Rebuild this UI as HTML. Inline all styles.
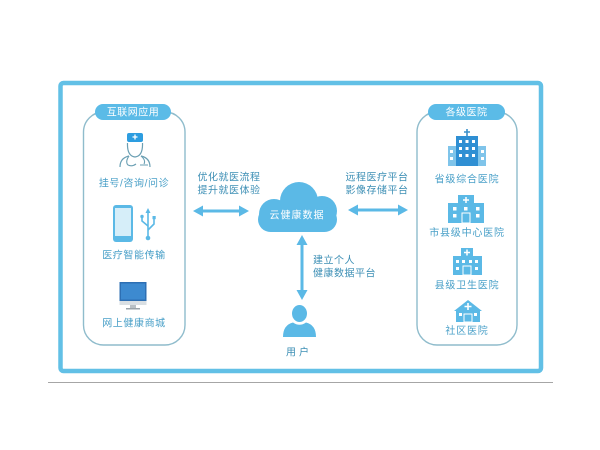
<!DOCTYPE html>
<html><head><meta charset="utf-8"><style>
html,body{margin:0;padding:0;background:#fff;}
svg{display:block;}
text{font-family:"Liberation Sans","Noto Sans CJK SC",sans-serif;}
</style></head><body>
<svg width="600" height="450" viewBox="0 0 600 450" xmlns="http://www.w3.org/2000/svg">
<rect width="600" height="450" fill="#fff"/>
<!-- gray baseline -->
<line x1="48" y1="382.5" x2="553" y2="382.5" stroke="#a6a6a6" stroke-width="1"/>
<!-- outer frame -->
<rect x="60.5" y="83" width="480.5" height="288" rx="3" fill="none" stroke="#62c0e6" stroke-width="4.5"/>

<!-- left panel -->
<rect x="83.5" y="112" width="101.5" height="233" rx="20" fill="none" stroke="#8fbccc" stroke-width="1.4"/>
<rect x="95" y="104" width="76" height="16" rx="8" fill="#5bbbe7"/>
<text x="133" y="115.5" font-size="10" fill="#fff" text-anchor="middle" letter-spacing="0.5">互联网应用</text>

<!-- right panel -->
<rect x="417" y="112" width="100" height="233" rx="20" fill="none" stroke="#8fbccc" stroke-width="1.4"/>
<rect x="428" y="104" width="77" height="16" rx="8" fill="#5bbbe7"/>
<text x="466.5" y="115.5" font-size="10" fill="#fff" text-anchor="middle" letter-spacing="0.5">各级医院</text>

<!-- doctor icon -->
<g>
<rect x="127" y="133" width="16" height="9" rx="2" fill="#2d9de0"/>
<path d="M135 134.5v5M132.5 137h5" stroke="#fff" stroke-width="1.3"/>
<path d="M127.5 143 Q127 156 135 157 Q143 156 142.5 143" fill="none" stroke="#6a9fb3" stroke-width="1.2"/>
<path d="M120 167 Q120 158 129 156 M150 167 Q150 158 141 156" fill="none" stroke="#6a9fb3" stroke-width="1.2"/>
<path d="M129 156 Q125 162 128 165 Q132 167 136 164 M141 156 Q146 160 144 164" fill="none" stroke="#6a9fb3" stroke-width="1.1"/>
<line x1="140" y1="165" x2="148" y2="165" stroke="#6a9fb3" stroke-width="1"/>
</g>
<text x="134" y="186.5" font-size="10" fill="#4aa0c8" text-anchor="middle" letter-spacing="0.6">挂号/咨询/问诊</text>

<!-- phone + usb -->
<rect x="113" y="205" width="20" height="37" rx="3" fill="#5bb9e6"/>
<rect x="115" y="208" width="16" height="28" fill="#d6eef9"/>
<g stroke="#5bb9e6" stroke-width="1.6" fill="none">
<line x1="148" y1="212" x2="148" y2="236"/>
<path d="M148 230 L154 224 L154 219"/>
<path d="M148 226 L142 221 L142 217"/>
</g>
<path d="M145.5 213 L148 208 L150.5 213Z" fill="#5bb9e6"/>
<circle cx="148" cy="238" r="2.3" fill="#5bb9e6"/>
<rect x="152.5" y="216" width="3.2" height="3.2" fill="#5bb9e6"/>
<circle cx="142" cy="216.5" r="1.7" fill="#5bb9e6"/>
<text x="134" y="258.5" font-size="10" fill="#4aa0c8" text-anchor="middle" letter-spacing="0.6">医疗智能传输</text>

<!-- monitor -->
<rect x="119.5" y="282" width="27" height="19" fill="#2d6fb3"/>
<rect x="121" y="283.5" width="24" height="16" fill="#3d8ad0"/>
<rect x="119.5" y="301" width="27" height="4" fill="#d9dfe3"/>
<rect x="130" y="305" width="6" height="3" fill="#b9c0c5"/>
<rect x="126" y="308" width="14" height="1.5" fill="#9aa3a9"/>
<text x="134" y="326.5" font-size="10" fill="#4aa0c8" text-anchor="middle" letter-spacing="0.6">网上健康商城</text>

<!-- building 1 -->
<g>
<path d="M467 129v7M464 132h6" stroke="#3a8fc9" stroke-width="1.6"/>
<rect x="448" y="146" width="9" height="20" fill="#7fc4ea"/>
<rect x="477" y="146" width="9" height="20" fill="#7fc4ea"/>
<rect x="456" y="136" width="22" height="30" fill="#2f8fd3"/>
<g fill="#fff">
<rect x="459" y="140" width="3" height="3"/><rect x="465.5" y="140" width="3" height="3"/><rect x="472" y="140" width="3" height="3"/>
<rect x="459" y="147" width="3" height="3"/><rect x="465.5" y="147" width="3" height="3"/><rect x="472" y="147" width="3" height="3"/>
<rect x="459" y="154" width="3" height="3"/><rect x="465.5" y="154" width="3" height="3"/><rect x="472" y="154" width="3" height="3"/>
<rect x="450" y="150" width="3" height="3"/><rect x="450" y="157" width="3" height="3"/>
<rect x="481" y="150" width="3" height="3"/><rect x="481" y="157" width="3" height="3"/>
</g>
</g>
<text x="467" y="182.5" font-size="10" fill="#4aa0c8" text-anchor="middle" letter-spacing="0.8">省级综合医院</text>

<!-- building 2 -->
<g>
<rect x="458" y="195" width="16" height="10" fill="#5bb9e6"/>
<rect x="448" y="203" width="36" height="20" fill="#5bb9e6"/>
<path d="M466 197v6M463 200h6" stroke="#fff" stroke-width="1.5"/>
<g fill="#fff">
<rect x="453" y="207" width="3.5" height="3.5"/><rect x="464" y="207" width="3.5" height="3.5"/><rect x="476" y="207" width="3.5" height="3.5"/>
<rect x="453" y="214" width="3.5" height="3.5"/><rect x="476" y="214" width="3.5" height="3.5"/>
</g>
<rect x="462" y="213" width="8" height="10" fill="none" stroke="#fff" stroke-width="1"/>
</g>
<text x="467" y="236" font-size="10" fill="#4aa0c8" text-anchor="middle" letter-spacing="0.8">市县级中心医院</text>

<!-- building 3 -->
<g>
<rect x="461" y="248" width="12" height="9" fill="#5bb9e6"/>
<rect x="453" y="256" width="29" height="19" fill="#5bb9e6"/>
<path d="M467 249.5v6M464 252.5h6" stroke="#fff" stroke-width="1.5"/>
<g fill="#fff">
<rect x="456" y="260" width="3" height="3"/><rect x="462" y="260" width="3" height="3"/><rect x="469" y="260" width="3" height="3"/><rect x="475" y="260" width="3" height="3"/>
<rect x="456" y="267" width="3" height="3"/><rect x="475" y="267" width="3" height="3"/>
</g>
<rect x="463" y="266" width="8" height="9" fill="none" stroke="#fff" stroke-width="1"/>
</g>
<text x="467" y="288.5" font-size="10" fill="#4aa0c8" text-anchor="middle" letter-spacing="0.8">县级卫生医院</text>

<!-- building 4 house -->
<g>
<path d="M454 311 L468 300 L482 311 L480 311 L480 322 L456 322 L456 311Z" fill="#5bb9e6"/>
<path d="M468 303v7M464.5 306.5h7" stroke="#fff" stroke-width="1.6"/>
<rect x="459" y="313" width="3" height="3" fill="#fff"/><rect x="474" y="313" width="3" height="3" fill="#fff"/>
<rect x="464" y="314" width="8" height="8" fill="none" stroke="#fff" stroke-width="1"/>
</g>
<text x="467" y="334" font-size="10" fill="#4aa0c8" text-anchor="middle" letter-spacing="0.8">社区医院</text>

<!-- center texts -->
<text x="229" y="180.5" font-size="10" fill="#3d8fb5" text-anchor="middle" letter-spacing="0.5">优化就医流程</text>
<text x="229" y="193.5" font-size="10" fill="#3d8fb5" text-anchor="middle" letter-spacing="0.5">提升就医体验</text>
<text x="377" y="180.5" font-size="10" fill="#3d8fb5" text-anchor="middle" letter-spacing="0.5">远程医疗平台</text>
<text x="377" y="193.5" font-size="10" fill="#3d8fb5" text-anchor="middle" letter-spacing="0.5">影像存储平台</text>
<text x="313" y="263.5" font-size="10" fill="#3d8fb5" letter-spacing="0.5">建立个人</text>
<text x="313" y="276.5" font-size="10" fill="#3d8fb5" letter-spacing="0.5">健康数据平台</text>

<!-- arrows -->
<g fill="#5bb9e6">
<rect x="200" y="209.5" width="42" height="3"/>
<path d="M193 211 L203 205.5 L203 216.5Z"/>
<path d="M249 211 L239 205.5 L239 216.5Z"/>
<rect x="355" y="208.5" width="46" height="3"/>
<path d="M348 210 L358 204.5 L358 215.5Z"/>
<path d="M408 210 L398 204.5 L398 215.5Z"/>
<rect x="300.5" y="242" width="3" height="50"/>
<path d="M302 235 L296.5 245 L307.5 245Z"/>
<path d="M302 300 L296.5 290 L307.5 290Z"/>
</g>

<!-- cloud -->
<g fill="#5bb9e6">
<circle cx="274" cy="214" r="15"/>
<circle cx="299" cy="201" r="19"/>
<circle cx="322" cy="211" r="15"/>
<rect x="258" y="207" width="79" height="25" rx="12.5"/>
</g>
<text x="297" y="218.5" font-size="10" fill="#fff" text-anchor="middle" letter-spacing="1">云健康数据</text>

<!-- user -->
<g fill="#5bb9e6">
<ellipse cx="299.5" cy="313.5" rx="7.5" ry="8.5"/>
<path d="M283 337 Q283 325 293 322.5 Q299.5 327 306 322.5 Q316 325 316 337Z"/>
</g>
<text x="299" y="355.5" font-size="10" fill="#3d8fb5" text-anchor="middle" letter-spacing="3">用户</text>
</svg>
</body></html>
